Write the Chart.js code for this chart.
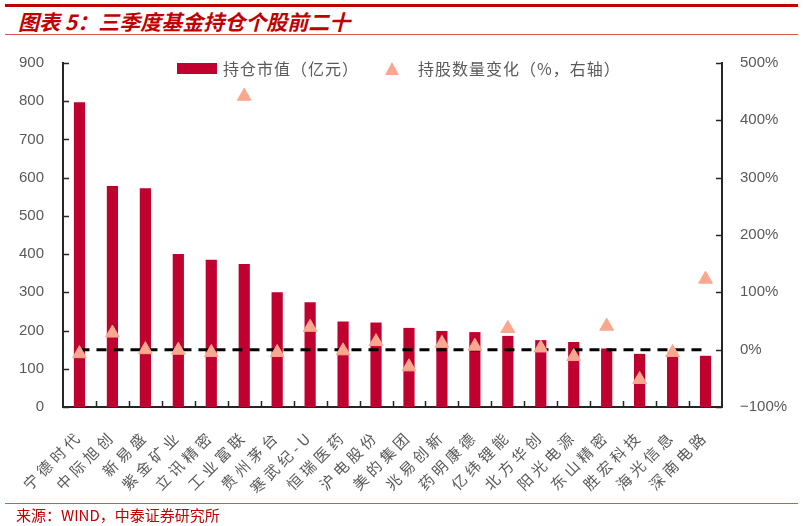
<!DOCTYPE html>
<html>
<head>
<meta charset="utf-8">
<title>三季度基金持仓个股前二十</title>
<script src="https://cdn.jsdelivr.net/npm/chart.js"></script>
<style>
  body { margin: 0; width: 803px; height: 526px; background: #fff; position: relative; overflow: hidden; font-family: "Noto Sans CJK SC", sans-serif; }
  .topline { position: absolute; left: 5px; right: 5px; top: 4px; height: 3px; background: #c00000; }
  .title { position: absolute; left: 18px; top: 6px; font-size: 21px; font-weight: bold; font-style: italic; color: #c00000; }
  .subline { position: absolute; left: 5px; right: 5px; top: 34px; height: 1px; background: #d9534f; }
  .footline { position: absolute; left: 5px; right: 5px; top: 503px; height: 1px; background: #d9534f; }
  .source { position: absolute; left: 16px; top: 504px; font-size: 15px; color: #c00000; }
  .legend { position: absolute; top: 56px; left: 177px; font-size: 16px; letter-spacing: 1px; color: #595959; display: flex; align-items: center; }
  .swatch { width: 40px; height: 11px; background: #c0002e; margin-right: 6px; }
  .tri { width: 0; height: 0; border-left: 7px solid transparent; border-right: 7px solid transparent; border-bottom: 13px solid #f9a890; margin: 0 19px 0 26px; }
  canvas { position: absolute; left: 0; top: 0; }
</style>
</head>
<body>
<div class="topline"></div>
<div class="title">图表 5：三季度基金持仓个股前二十</div>
<div class="subline"></div>
<canvas id="holdChart" width="803" height="526"></canvas>
<div class="legend">
  <div class="swatch"></div><span>持仓市值（亿元）</span>
  <div class="tri"></div><span>持股数量变化（%，右轴）</span>
</div>
<div class="footline"></div>
<div class="source">来源：WIND，中泰证券研究所</div>

<script>
// categories and values
const stocks = ['宁德时代', '中际旭创', '新易盛', '紫金矿业', '立讯精密', '工业富联', '贵州茅台', '寒武纪-U',
  '恒瑞医药', '沪电股份', '美的集团', '兆易创新', '药明康德', '亿纬锂能', '北方华创', '阳光电源',
  '东山精密', '胜宏科技', '海光信息', '深南电路'];
const holdValue = [797, 578, 572, 400, 385, 374, 300, 274, 224, 221, 207, 199, 196, 186, 175, 170, 153, 139, 134, 134];
const shareChange = [-7, 29, 0, -1, -5, 442, -5, 39, -2, 14, -30, 11, 6, 37, 3, -12, 41, -52, -5, 123];
const zeroLine = stocks.map(() => 0);

const leftTicks = [0, 100, 200, 300, 400, 500, 600, 700, 800, 900];
const rightTicks = [-100, 0, 100, 200, 300, 400, 500];

// wide spacing for the category names only (x labels draw first, y labels after the datasets)
const labelSpacing = {
  id: 'labelSpacing',
  beforeDraw(chart) { chart.ctx.letterSpacing = '4px'; },
  beforeDatasetsDraw(chart) { chart.ctx.letterSpacing = '0px'; }
};

// ticks pointing into the plot, like the original
const innerTicks = {
  id: 'innerTicks',
  afterDraw(chart) {
    const ctx = chart.ctx;
    const a = chart.chartArea;
    ctx.save();
    ctx.strokeStyle = '#262626';
    ctx.lineWidth = 1.5;
    ctx.beginPath();
    chart.scales.y.ticks.forEach((t, i) => {
      const py = Math.round(chart.scales.y.getPixelForTick(i)) + 0.5;
      ctx.moveTo(a.left, py); ctx.lineTo(a.left + 6, py);
    });
    chart.scales.y2.ticks.forEach((t, i) => {
      const py = Math.round(chart.scales.y2.getPixelForTick(i)) + 0.5;
      ctx.moveTo(a.right, py); ctx.lineTo(a.right - 6, py);
    });
    const x = chart.scales.x;
    for (let i = 1; i < stocks.length; i++) {
      const px = Math.round((x.getPixelForValue(i - 1) + x.getPixelForValue(i)) / 2) + 0.5;
      ctx.moveTo(px, a.bottom); ctx.lineTo(px, a.bottom - 6);
    }
    ctx.stroke();
    ctx.restore();
  }
};

const ctx = document.getElementById('holdChart').getContext('2d');
new Chart(ctx, {
  data: {
    labels: stocks,
    datasets: [
      {
        type: 'scatter',
        label: '持股数量变化（%，右轴）',
        data: shareChange,
        yAxisID: 'y2',
        pointStyle: 'triangle',
        pointRadius: 8,
        backgroundColor: '#f9a890',
        borderColor: '#f9a890',
        showLine: false,
        order: 0
      },
      {
        type: 'line',
        label: '0',
        data: zeroLine,
        yAxisID: 'y2',
        borderColor: '#000',
        borderWidth: 3,
        borderDash: [10, 7],
        pointRadius: 0,
        order: 1
      },
      {
        type: 'bar',
        label: '持仓市值（亿元）',
        data: holdValue,
        yAxisID: 'y',
        backgroundColor: '#c0002e',
        barPercentage: 0.34,
        categoryPercentage: 1,
        order: 2
      }
    ]
  },
  options: {
    responsive: false,
    animation: false,
    layout: { padding: { top: 63, left: 0, right: 0, bottom: 0 } },
    plugins: { legend: { display: false }, tooltip: { enabled: false } },
    scales: {
      x: {
        type: 'category',
        offset: true,
        grid: { display: false },
        border: { color: '#262626', width: 2 },
        ticks: {
          color: '#595959',
          font: { family: '"Noto Sans CJK SC"', size: 15 },
          minRotation: 45,
          maxRotation: 45,
          autoSkip: false,
          padding: 12
        },
        afterFit(s) { s.height = 119; }
      },
      y: {
        position: 'left',
        min: 0,
        max: 900,
        afterBuildTicks(s) { s.ticks = leftTicks.map(v => ({ value: v })); },
        grid: { display: false },
        border: { color: '#262626', width: 2, z: 1 },
        ticks: { z: 1, color: '#595959', font: { family: '"Liberation Sans"', size: 15 }, padding: 11 },
        afterFit(s) { s.width = 63; }
      },
      y2: {
        position: 'right',
        min: -100,
        max: 500,
        afterBuildTicks(s) { s.ticks = rightTicks.map(v => ({ value: v })); },
        grid: { display: false },
        border: { color: '#262626', width: 2, z: 1 },
        ticks: {
          z: 1,
          color: '#595959',
          font: { family: '"Liberation Sans"', size: 15 },
          padding: 10,
          callback: v => (v < 0 ? '\u2212' + Math.abs(v) : v) + '%'
        },
        afterFit(s) { s.width = 81; }
      }
    }
  },
  plugins: [labelSpacing, innerTicks]
});
</script>
</body>
</html>
